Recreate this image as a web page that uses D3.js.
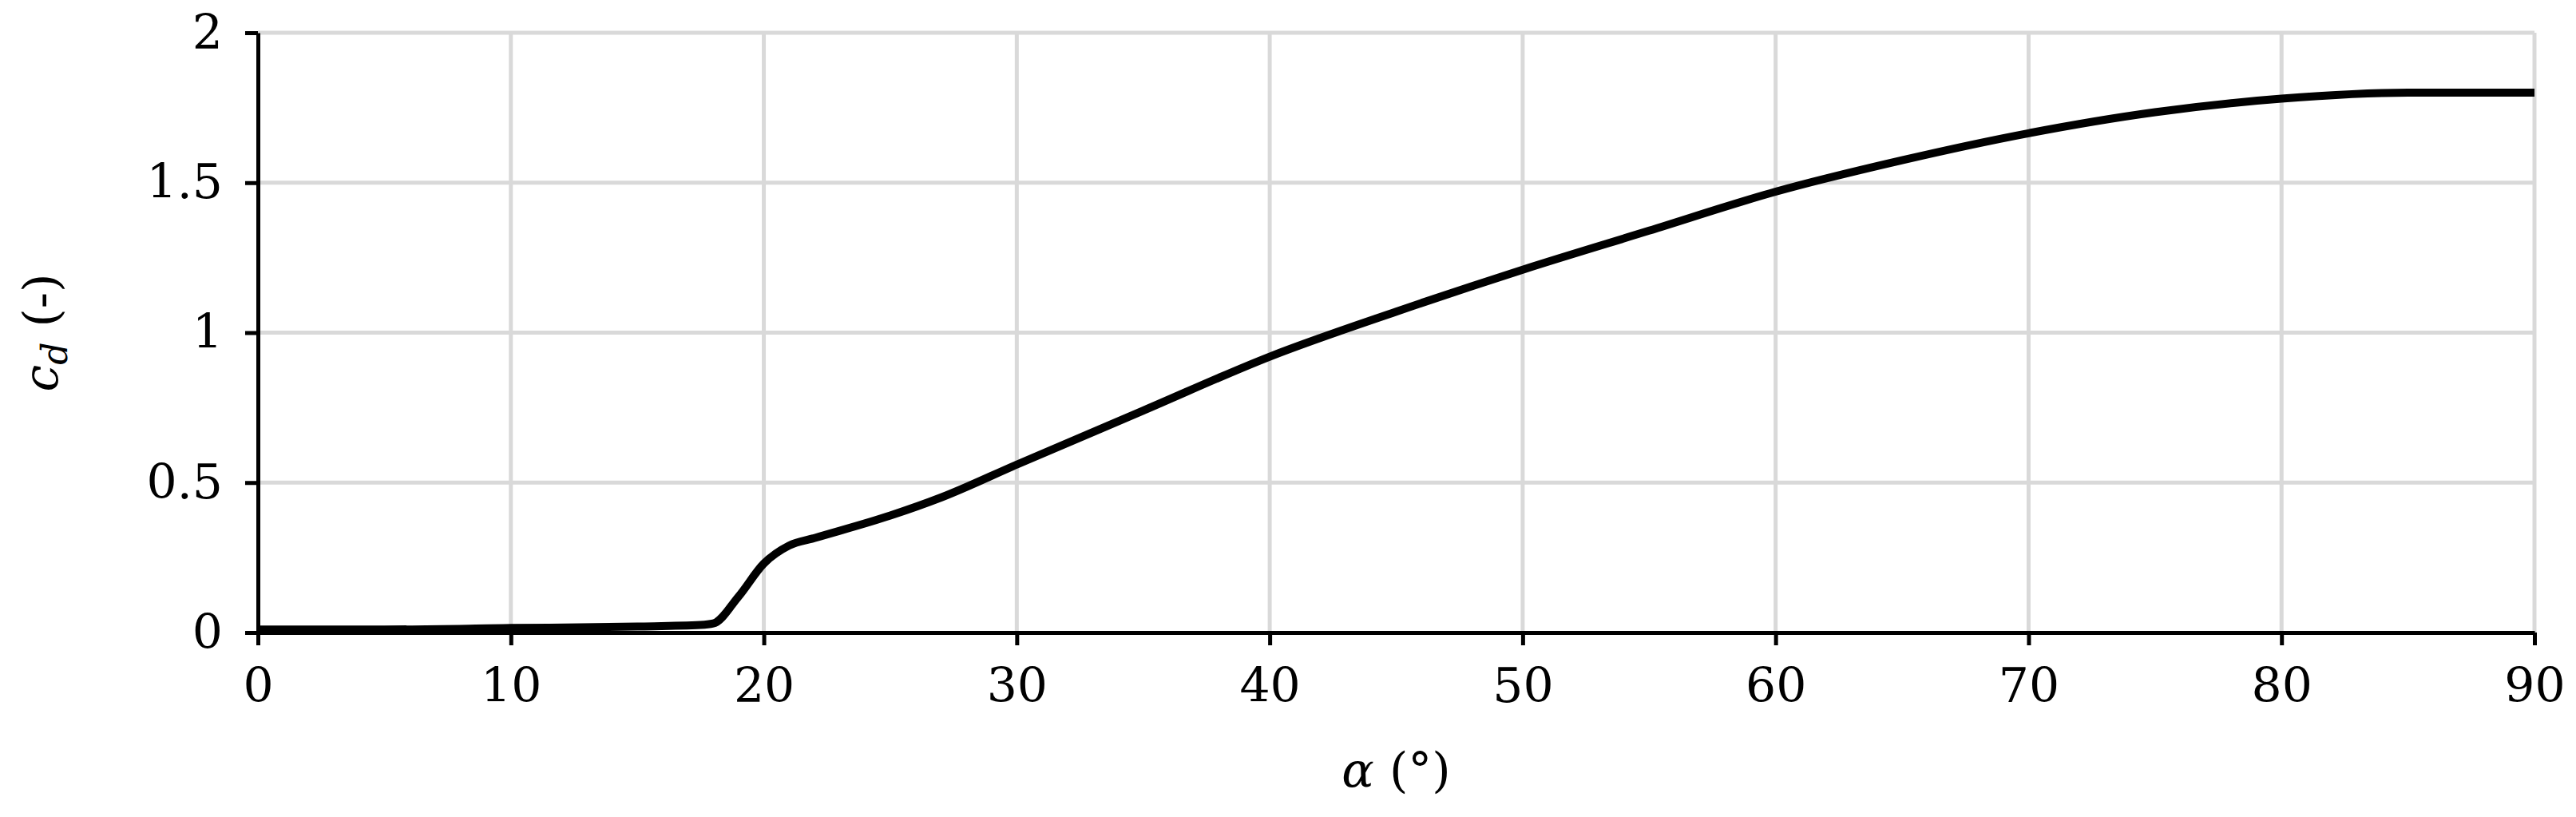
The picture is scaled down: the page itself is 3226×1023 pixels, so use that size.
<!DOCTYPE html><html><head><meta charset="utf-8">
<script src="https://cdn.jsdelivr.net/npm/d3@7"></script>
<style>body{margin:0;background:#fff}text{font-family:"DejaVu Serif","Liberation Serif",serif}</style></head><body>
<svg id="c" width="3226" height="1023"></svg>
<script>
const alpha = [0,5,10,15,17.5,18,19,20,21,22,25,27,30,35,40,45,50,55,60,65,70,75,80,85,90];
const cd = [0.01,0.01,0.015,0.02,0.025,0.03,0.12,0.23,0.29,0.315,0.39,0.45,0.56,0.74,0.92,1.07,1.21,1.34,1.47,1.575,1.665,1.735,1.78,1.8,1.8];
const xTicks = [0,10,20,30,40,50,60,70,80,90];
const yTicks = [0,0.5,1,1.5,2];
const svg = d3.select("#c");
const L=323,R=3174,T=41,B=792;
const x=d3.scaleLinear().domain([0,90]).range([L,R]);
const y=d3.scaleLinear().domain([0,2]).range([B,T]);
const fmt=d=>String(d);
svg.append("g").selectAll("line").data(yTicks.slice(1)).join("line")
 .attr("x1",L).attr("x2",R).attr("y1",d=>y(d)).attr("y2",d=>y(d)).attr("stroke","#d9d9d9").attr("stroke-width",5);
svg.append("g").selectAll("line").data(xTicks.slice(1)).join("line")
 .attr("x1",d=>x(d)).attr("x2",d=>x(d)).attr("y1",T).attr("y2",B).attr("stroke","#d9d9d9").attr("stroke-width",5);
const xa=svg.append("g").attr("transform",`translate(0,${B})`).call(d3.axisBottom(x).tickValues(xTicks).tickFormat(fmt).tickSize(16).tickSizeOuter(0).tickPadding(28));
const ya=svg.append("g").attr("transform",`translate(${L},0)`).call(d3.axisLeft(y).tickValues(yTicks).tickFormat(fmt).tickSize(16).tickSizeOuter(0).tickPadding(28));
[xa,ya].forEach(a=>{a.selectAll("path,line").attr("stroke","#000").attr("stroke-width",5);a.selectAll("text").attr("font-size",60).attr("fill","#000").attr("font-family","DejaVu Serif");});
svg.append("path").datum(alpha.map((a,i)=>[a,cd[i]])).attr("fill","none").attr("stroke","#000").attr("stroke-width",10)
 .attr("d",d3.line().x(d=>x(d[0])).y(d=>y(d[1])).curve(d3.curveMonotoneX));
const xl=svg.append("text").attr("x",(L+R)/2).attr("y",985).attr("text-anchor","middle").attr("font-size",60);
xl.append("tspan").attr("font-style","italic").text("α");xl.append("tspan").text(" (°)");
const yl=svg.append("text").attr("transform",`translate(72,${(T+B)/2}) rotate(-90)`).attr("text-anchor","middle").attr("font-size",60);
yl.append("tspan").attr("font-style","italic").text("c");
yl.append("tspan").attr("font-style","italic").attr("font-size",44).attr("dy",12).text("d");
yl.append("tspan").attr("dy",-12).text(" (-)");
</script></body></html>
